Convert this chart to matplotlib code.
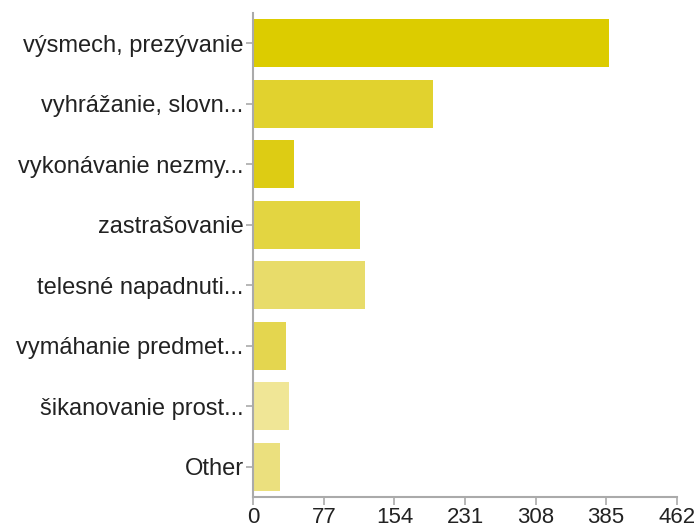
import matplotlib.pyplot as plt

plt.rcParams['font.family'] = ['Liberation Sans', 'DejaVu Sans']

categories = ['výsmech, prezývanie', 'vyhrážanie, slovn...', 'vykonávanie nezmy...',
              'zastrašovanie', 'telesné napadnuti...', 'vymáhanie predmet...',
              'šikanovanie prost...', 'Other']
counts = [388, 196, 44, 116, 122, 36, 39, 29]
colors = ['#dccc00', '#e1d22e', '#ddcc14', '#e3d541', '#e8dc6a', '#e4d64f', '#f0e696', '#ebe07e']
xticks = [0, 77, 154, 231, 308, 385, 462]

fig = plt.figure(figsize=(6.97, 5.29), dpi=100)
ax = fig.add_axes([0.3634, 0.0605, 0.6075, 0.9149])

ax.barh(range(len(categories)), counts, height=0.79, color=colors)
ax.set_ylim(len(categories) - 0.5, -0.5)
ax.set_xlim(0, 462)
ax.set_xticks(xticks)
ax.set_yticks(range(len(categories)))
ax.set_yticklabels(categories)

for side in ['top', 'right']:
    ax.spines[side].set_visible(False)
for side in ['left', 'bottom']:
    ax.spines[side].set_color('#aaaaaa')
    ax.spines[side].set_linewidth(1.5)
ax.tick_params(axis='both', colors='#aaaaaa', labelcolor='#222222', width=1.2)
ax.tick_params(axis='y', length=5, pad=2, labelsize=17)
ax.tick_params(axis='x', length=6, pad=1, labelsize=16)

fig.savefig('out.png', dpi=100)
